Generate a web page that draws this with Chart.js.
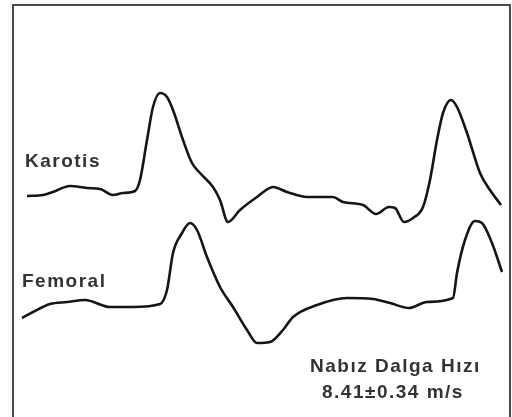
<!DOCTYPE html>
<html>
<head>
<meta charset="utf-8">
<script src="https://cdn.jsdelivr.net/npm/chart.js@4.4.1/dist/chart.umd.min.js"></script>
<style>
    html, body { margin: 0; padding: 0; background: #fff; }
    body { width: 512px; height: 417px; overflow: hidden; position: relative; }
    #frame {
        position: absolute; left: 12px; top: 4px; width: 499px; height: 430px;
        border: 2px solid #4a4a4a; box-sizing: border-box;
    }
    #chartBox { position: absolute; left: 0; top: 0; width: 512px; height: 417px; }
</style>
</head>
<body>
<div id="frame"></div>
<div id="chartBox"><canvas id="pulseChart"></canvas></div>
<script>
// traces (x = time position, y = signal position, both in picture units)
const karotisX = [27, 43, 53, 70, 87, 100, 113, 123, 135, 140, 147, 153, 160, 167, 173, 183, 192, 200, 213, 220, 228, 240, 257, 273, 287, 307, 333, 343, 363, 376, 389, 395, 404, 413, 423, 430, 437, 443, 451, 457, 467, 480, 490, 501];
const karotisY = [196, 195, 192, 186, 188, 189, 195, 193, 191, 180, 140, 107, 93, 97, 110, 140, 163, 173, 187, 200, 222, 210, 197, 187, 192, 197, 197, 202, 205, 214, 207, 208, 222, 218, 207, 180, 140, 113, 100, 107, 133, 173, 190, 205];

const femoralX = [22, 33, 50, 67, 85, 110, 133, 160, 167, 173, 182, 190, 197, 207, 220, 233, 247, 257, 270, 283, 293, 317, 347, 373, 390, 409, 427, 453, 457, 465, 475, 482, 492, 502];
const femoralY = [318, 312, 304, 302, 300, 307, 307, 304, 290, 253, 233, 223, 230, 257, 287, 307, 330, 343, 342, 330, 317, 305, 298, 299, 303, 308, 302, 298, 273, 240, 221, 223, 243, 272];

const labels = [
    { text: "Karotis", x: 25, y: 162, align: "left" },
    { text: "Femoral", x: 22, y: 282, align: "left" },
    { text: "Nabız Dalga Hızı", x: 310, y: 367, align: "left" },
    { text: "8.41±0.34 m/s", x: 322, y: 393, align: "left" }
];

const toPoints = (xs, ys) => xs.map((x, i) => ({ x: x, y: ys[i] }));

const textPlugin = {
    id: 'traceLabels',
    afterDatasetsDraw: (chart) => {
        const { ctx, scales } = chart;
        ctx.save();
        ctx.fillStyle = '#333';
        ctx.font = 'bold 19px "Liberation Sans", Arial, sans-serif';
        ctx.letterSpacing = '1.5px';
        ctx.textBaseline = 'middle';
        labels.forEach((l) => {
            ctx.textAlign = l.align;
            ctx.fillText(l.text, scales.x.getPixelForValue(l.x), scales.y.getPixelForValue(l.y));
        });
        ctx.restore();
    }
};

const lineStyle = {
    borderColor: '#151515',
    borderWidth: 2.6,
    pointRadius: 0,
    cubicInterpolationMode: 'monotone',
    fill: false
};

new Chart(document.getElementById('pulseChart'), {
    type: 'line',
    data: {
        datasets: [
            Object.assign({ label: 'Karotis', data: toPoints(karotisX, karotisY) }, lineStyle),
            Object.assign({ label: 'Femoral', data: toPoints(femoralX, femoralY) }, lineStyle)
        ]
    },
    options: {
        responsive: true,
        maintainAspectRatio: false,
        animation: false,
        layout: { padding: 0 },
        plugins: { legend: { display: false }, tooltip: { enabled: false } },
        scales: {
            x: { type: 'linear', min: 0, max: 512, display: false },
            y: { type: 'linear', min: 0, max: 417, reverse: true, display: false }
        }
    },
    plugins: [textPlugin]
});
</script>
</body>
</html>
